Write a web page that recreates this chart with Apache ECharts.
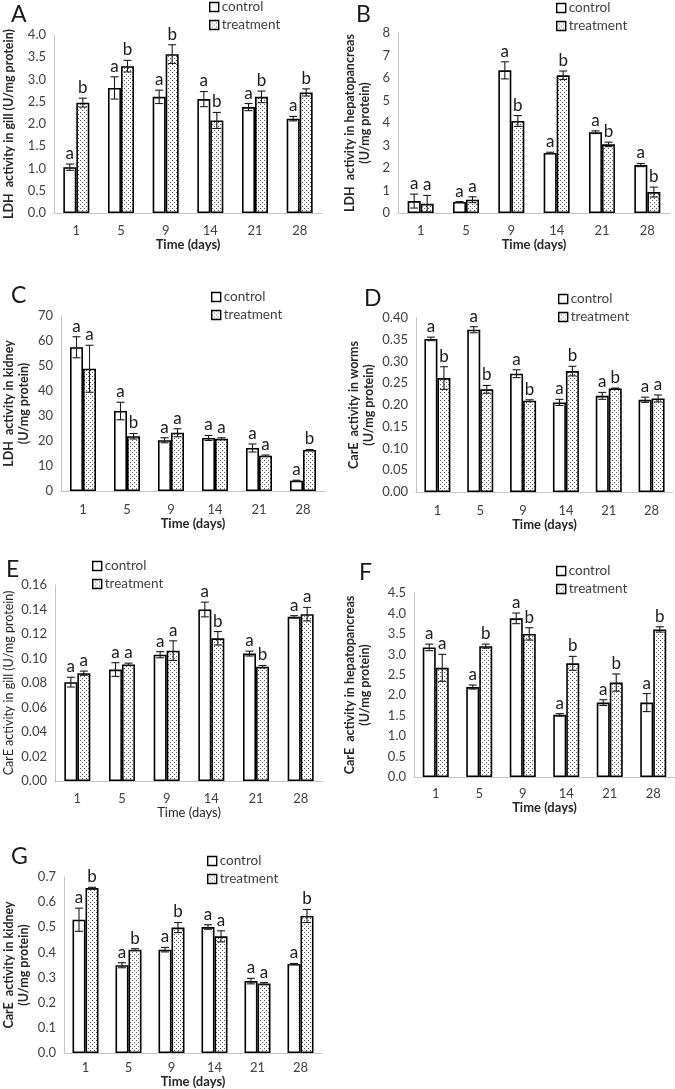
<!DOCTYPE html>
<html>
<head>
<meta charset="utf-8">
<script src="https://cdn.jsdelivr.net/npm/echarts@6/dist/echarts.min.js"></script>
<style>
html,body{margin:0;padding:0;background:#fff;}
#chart{width:675px;height:1089px;}
</style>
</head>
<body>
<div id="chart"></div>
<script>
// ---------- data ----------
const categories = ['1', '5', '9', '14', '21', '28'];
const seriesNames = ['control', 'treatment'];

// A: LDH gill
const A_control = [1.03, 2.81, 2.61, 2.56, 2.38, 2.12];
const A_controlErr = [0.07, 0.25, 0.15, 0.17, 0.08, 0.05];
const A_treatment = [2.48, 3.30, 3.57, 2.08, 2.61, 2.71];
const A_treatmentErr = [0.10, 0.13, 0.21, 0.18, 0.13, 0.08];
const A_controlLetters = ['a', 'a', 'a', 'a', 'a', 'a'];
const A_treatmentLetters = ['b', 'b', 'b', 'b', 'b', 'b'];

// B: LDH hepatopancreas
const B_control = [0.53, 0.49, 6.34, 2.67, 3.59, 2.13];
const B_controlErr = [0.31, 0.02, 0.38, 0.03, 0.06, 0.07];
const B_treatment = [0.41, 0.59, 4.09, 6.12, 3.05, 0.93];
const B_treatmentErr = [0.37, 0.13, 0.24, 0.19, 0.10, 0.22];
const B_controlLetters = ['a', 'a', 'a', 'a', 'a', 'a'];
const B_treatmentLetters = ['a', 'a', 'b', 'b', 'b', 'b'];

// C: LDH kidney
const C_control = [57.5, 32.0, 20.3, 21.2, 17.2, 4.1];
const C_controlErr = [4.2, 3.5, 1.0, 1.0, 1.6, 0.2];
const C_treatment = [48.9, 21.9, 23.3, 20.9, 14.1, 16.4];
const C_treatmentErr = [9.4, 1.1, 1.6, 0.4, 0.3, 0.2];
const C_controlLetters = ['a', 'a', 'a', 'a', 'a', 'a'];
const C_treatmentLetters = ['a', 'b', 'a', 'a', 'a', 'b'];

// D: CarE worms
const D_control = [0.352, 0.373, 0.272, 0.206, 0.221, 0.212];
const D_controlErr = [0.004, 0.007, 0.009, 0.007, 0.008, 0.006];
const D_treatment = [0.262, 0.236, 0.210, 0.278, 0.238, 0.215];
const D_treatmentErr = [0.026, 0.009, 0.002, 0.011, 0.001, 0.008];
const D_controlLetters = ['a', 'a', 'a', 'a', 'a', 'a'];
const D_treatmentLetters = ['b', 'b', 'b', 'b', 'b', 'a'];

// E: CarE gill
const E_control = [0.0807, 0.0910, 0.1031, 0.1400, 0.1040, 0.1340];
const E_controlErr = [0.0040, 0.0056, 0.0025, 0.0060, 0.0020, 0.0010];
const E_treatment = [0.0880, 0.0952, 0.1064, 0.1165, 0.0933, 0.1362];
const E_treatmentErr = [0.0017, 0.0010, 0.0080, 0.0055, 0.0010, 0.0055];
const E_controlLetters = ['a', 'a', 'a', 'a', 'a', 'a'];
const E_treatmentLetters = ['a', 'a', 'a', 'b', 'b', 'a'];

// F: CarE hepatopancreas
const F_control = [3.17, 2.20, 3.88, 1.52, 1.82, 1.82];
const F_controlErr = [0.08, 0.05, 0.13, 0.03, 0.07, 0.22];
const F_treatment = [2.67, 3.20, 3.50, 2.78, 2.31, 3.61];
const F_treatmentErr = [0.33, 0.05, 0.15, 0.17, 0.21, 0.065];
const F_controlLetters = ['a', 'a', 'a', 'a', 'a', 'a'];
const F_treatmentLetters = ['a', 'b', 'b', 'b', 'b', 'b'];

// G: CarE kidney
const G_control = [0.530, 0.349, 0.411, 0.501, 0.286, 0.354];
const G_controlErr = [0.046, 0.010, 0.009, 0.009, 0.011, 0.002];
const G_treatment = [0.656, 0.411, 0.499, 0.464, 0.276, 0.545];
const G_treatmentErr = [0.003, 0.004, 0.020, 0.022, 0.004, 0.026];
const G_controlLetters = ['a', 'a', 'a', 'a', 'a', 'a'];
const G_treatmentLetters = ['b', 'b', 'b', 'a', 'a', 'b'];

// y-axis scales (min, max, interval, decimals)
const A_yAxis = [0, 4, 0.5, 1];
const B_yAxis = [0, 8, 1, 0];
const C_yAxis = [0, 70, 10, 0];
const D_yAxis = [0, 0.40, 0.05, 2];
const E_yAxis = [0, 0.16, 0.02, 2];
const F_yAxis = [0, 4.5, 0.5, 1];
const G_yAxis = [0, 0.7, 0.1, 1];

// ---------- layout / style ----------
const FONT = 'Lato, "Open Sans", sans-serif';
const BAR_W = 13;

function makePattern() {
  const c = document.createElement('canvas');
  c.width = 4; c.height = 4;
  const g = c.getContext('2d');
  g.fillStyle = '#ffffff'; g.fillRect(0, 0, 4, 4);
  g.fillStyle = '#5a5a5a';
  g.fillRect(0, 0, 1, 1);
  g.fillRect(2, 2, 1, 1);
  return c;
}
const dotPattern = { image: makePattern(), repeat: 'repeat' };

const panels = [
  { id: 'A', c: A_control, ce: A_controlErr, t: A_treatment, te: A_treatmentErr, cl: A_controlLetters, tl: A_treatmentLetters, y: A_yAxis,
    yName: 'LDH  activity in gill (U/mg protein)', bold: true,
    grid: { left: 52, top: 35, width: 270, height: 178 }, nameGap: 38, xNameGap: 22, labelMargin: 11,
    letter: [11, 3], legend: [209, 0] },
  { id: 'B', c: B_control, ce: B_controlErr, t: B_treatment, te: B_treatmentErr, cl: B_controlLetters, tl: B_treatmentLetters, y: B_yAxis,
    yName: 'LDH  activity in hepatopancreas\n(U/mg protein)', bold: true,
    grid: { left: 398, top: 33, width: 272, height: 180 }, nameGap: 26, xNameGap: 22, labelMargin: 11,
    letter: [356, 3], legend: [556, 1] },
  { id: 'C', c: C_control, ce: C_controlErr, t: C_treatment, te: C_treatmentErr, cl: C_controlLetters, tl: C_treatmentLetters, y: C_yAxis,
    yName: 'LDH  activity in kidney\n(U/mg protein)', bold: true,
    grid: { left: 59, top: 316, width: 266, height: 175 }, nameGap: 30, xNameGap: 21, labelMargin: 12,
    letter: [11, 284], legend: [211, 290] },
  { id: 'D', c: D_control, ce: D_controlErr, t: D_treatment, te: D_treatmentErr, cl: D_controlLetters, tl: D_treatmentLetters, y: D_yAxis,
    yName: 'CarE  activity in worms\n(U/mg protein)', bold: true,
    grid: { left: 416, top: 318, width: 257, height: 174 }, nameGap: 40, xNameGap: 20, labelMargin: 12,
    letter: [364, 287], legend: [558, 292] },
  { id: 'E', c: E_control, ce: E_controlErr, t: E_treatment, te: E_treatmentErr, cl: E_controlLetters, tl: E_treatmentLetters, y: E_yAxis,
    yName: 'CarE activity in gill (U/mg protein)', bold: false,
    grid: { left: 55, top: 585, width: 268, height: 196 }, nameGap: 39, xNameGap: 18, labelMargin: 11,
    letter: [6, 558], legend: [92, 559] },
  { id: 'F', c: F_control, ce: F_controlErr, t: F_treatment, te: F_treatmentErr, cl: F_controlLetters, tl: F_treatmentLetters, y: F_yAxis,
    yName: 'CarE  activity in hepatopancreas\n(U/mg protein)', bold: true,
    grid: { left: 414, top: 593, width: 261, height: 184 }, nameGap: 42, xNameGap: 23, labelMargin: 10,
    letter: [359, 561], legend: [556, 564] },
  { id: 'G', c: G_control, ce: G_controlErr, t: G_treatment, te: G_treatmentErr, cl: G_controlLetters, tl: G_treatmentLetters, y: G_yAxis,
    yName: 'CarE  activity in kidney\n(U/mg protein)', bold: true,
    grid: { left: 63, top: 877, width: 259, height: 176 }, nameGap: 33, xNameGap: 21, labelMargin: 8,
    letter: [11, 845], legend: [207, 854] }
];

const option = {
  animation: false,
  backgroundColor: '#ffffff',
  textStyle: { fontFamily: FONT },
  title: [],
  legend: [],
  grid: [],
  xAxis: [],
  yAxis: [],
  series: []
};

panels.forEach((p, i) => {
  option.grid.push(Object.assign({ containLabel: false }, p.grid));
  option.title.push({
    text: p.id, left: p.letter[0], top: p.letter[1], padding: 0,
    textStyle: { fontFamily: FONT, fontSize: 23, fontWeight: 'normal', color: '#1a1a1a' }
  });
  option.legend.push({
    data: seriesNames, left: p.legend[0], top: p.legend[1], orient: 'vertical',
    icon: 'rect', itemWidth: 9, itemHeight: 9, itemGap: 4, padding: 0, selectedMode: false,
    itemStyle: { borderColor: '#000000', borderWidth: 1.4 },
    textStyle: { fontFamily: FONT, fontSize: 13.5, color: '#404040', padding: [0, 0, 0, -2] }
  });
  option.xAxis.push({
    type: 'category', gridIndex: i, data: categories,
    axisLine: { show: true, lineStyle: { color: '#c4c4c4', width: 1 } },
    axisTick: { show: false },
    axisLabel: { fontFamily: FONT, fontSize: 13, color: '#404040', margin: p.labelMargin },
    name: 'Time (days)', nameLocation: 'middle', nameGap: p.xNameGap,
    nameTextStyle: { fontFamily: FONT, fontSize: 13, fontWeight: p.bold ? 'bold' : 'normal', color: '#262626' }
  });
  const dec = p.y[3];
  option.yAxis.push({
    type: 'value', gridIndex: i, min: p.y[0], max: p.y[1], interval: p.y[2],
    axisLine: { show: true, lineStyle: { color: '#c4c4c4', width: 1 } },
    axisTick: { show: false },
    splitLine: { show: false },
    axisLabel: { fontFamily: FONT, fontSize: 13, color: '#404040', margin: 8,
      formatter: v => Number(v).toFixed(dec) },
    name: p.yName, nameLocation: 'middle', nameRotate: 90, nameGap: p.nameGap,
    nameTextStyle: { fontFamily: FONT, fontSize: 12.5, fontWeight: p.bold ? 'bold' : 'normal', color: '#262626', lineHeight: 15 }
  });
  option.series.push({
    name: 'control', type: 'bar', xAxisIndex: i, yAxisIndex: i, data: p.c,
    barWidth: BAR_W, barGap: '0%',
    itemStyle: { color: '#ffffff', borderColor: '#000000', borderWidth: 1.6 }
  });
  option.series.push({
    name: 'treatment', type: 'bar', xAxisIndex: i, yAxisIndex: i, data: p.t,
    barWidth: BAR_W, barGap: '0%',
    itemStyle: { color: dotPattern, borderColor: '#000000', borderWidth: 1.6 }
  });
  const errData = [];
  p.c.forEach((v, k) => errData.push([k, v, p.ce[k], 0]));
  p.t.forEach((v, k) => errData.push([k, v, p.te[k], 1]));
  const letters = p.cl.concat(p.tl);
  option.series.push({
    type: 'custom', xAxisIndex: i, yAxisIndex: i, data: errData, z: 10, clip: false,
    silent: true,
    renderItem: function (params, api) {
      const ci = api.value(0), v = api.value(1), e = api.value(2), side = api.value(3);
      const c = api.coord([ci, v]);
      const x = c[0] + (side === 0 ? -BAR_W / 2 : BAR_W / 2);
      const yT = api.coord([ci, v + e])[1];
      const yB = api.coord([ci, v - e])[1];
      const cap = 4;
      const ls = { stroke: '#1a1a1a', lineWidth: 1.1 };
      return {
        type: 'group',
        children: [
          { type: 'line', shape: { x1: x, y1: yT, x2: x, y2: yB }, style: ls },
          { type: 'line', shape: { x1: x - cap, y1: yT, x2: x + cap, y2: yT }, style: ls },
          { type: 'line', shape: { x1: x - cap, y1: yB, x2: x + cap, y2: yB }, style: ls },
          { type: 'text', x: x, y: Math.min(yT, c[1]) - 2,
            style: { text: letters[params.dataIndex], fontFamily: FONT, fontSize: 17,
              fill: '#1a1a1a', align: 'center', verticalAlign: 'bottom' } }
        ]
      };
    }
  });
});

const chart = echarts.init(document.getElementById('chart'), null, { renderer: 'canvas' });
chart.setOption(option);
</script>
</body>
</html>
